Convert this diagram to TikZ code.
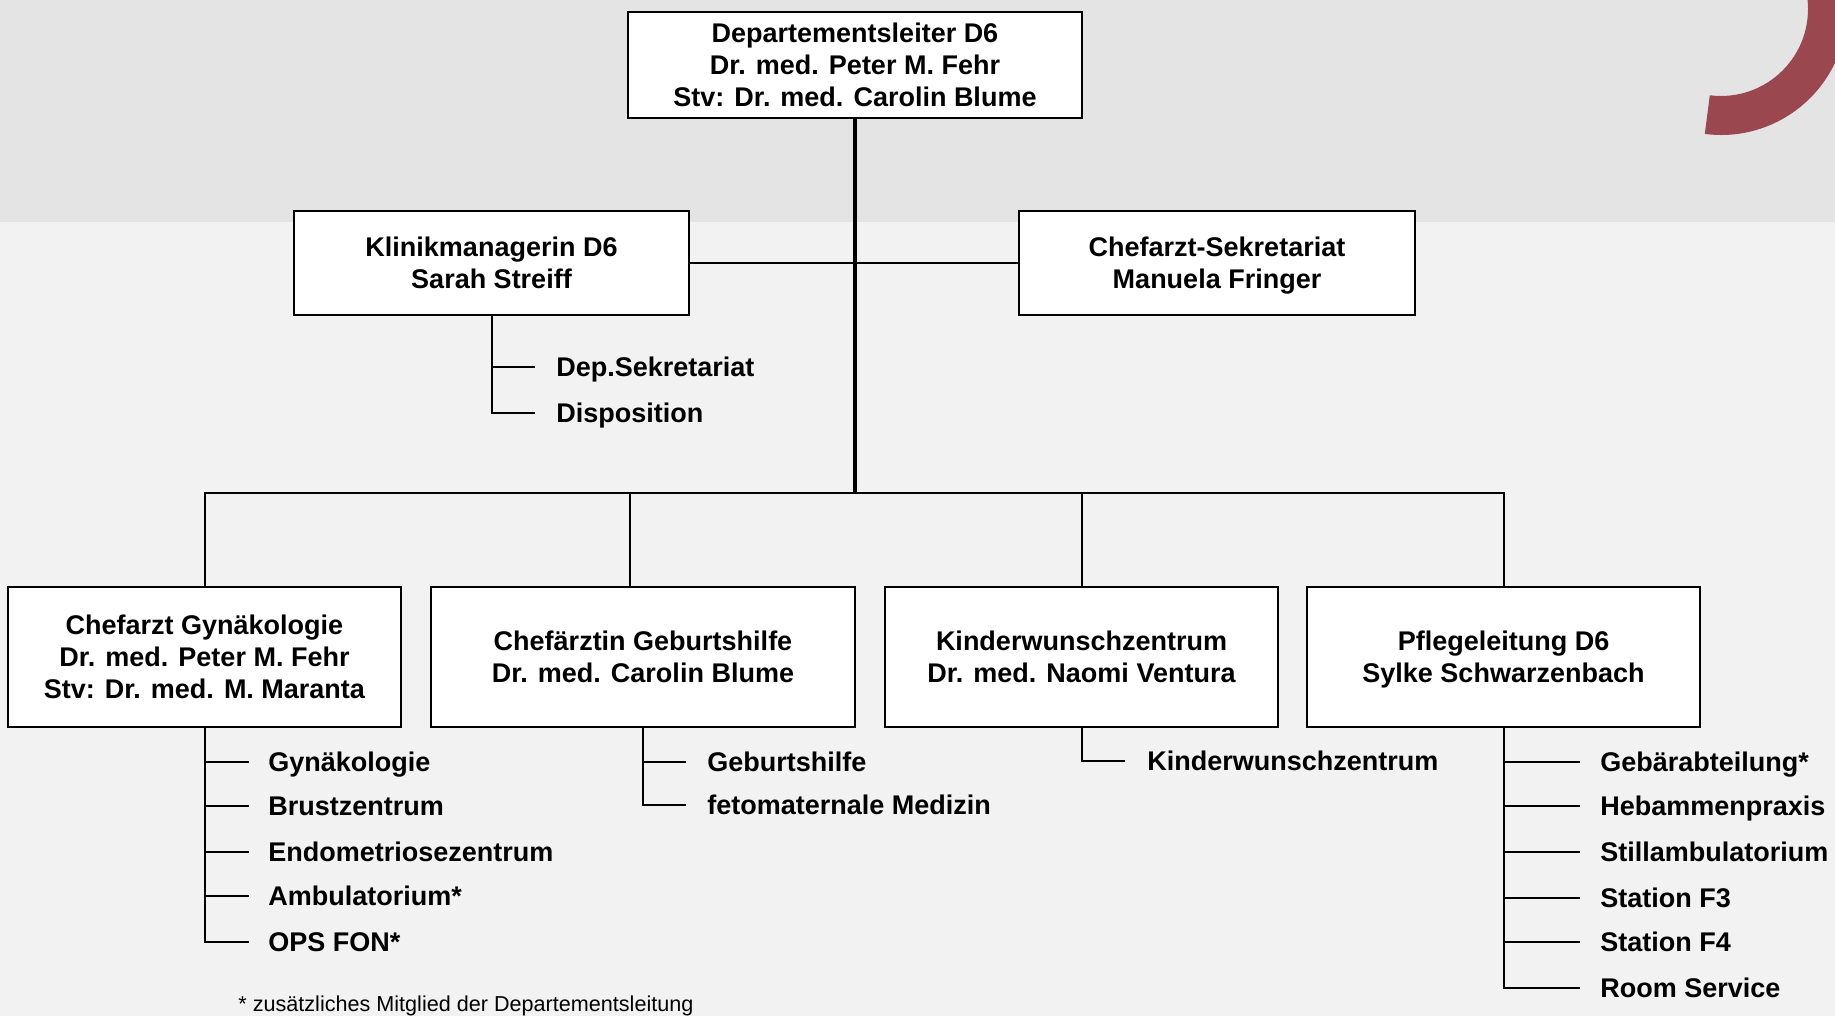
\documentclass[tikz,border=0pt]{standalone}
\usepackage{fontspec}
\setmainfont{Liberation Sans}
\definecolor{bandgray}{RGB}{228,228,228}
\definecolor{lowgray}{RGB}{242,242,242}
\definecolor{logored}{RGB}{155,71,80}
\newcommand\orgfont{\fontsize{13.5pt}{16pt}\selectfont\bfseries}
\newcommand\footfont{\fontsize{10.8pt}{12pt}\selectfont}
\newcommand\ls{\rule[-3.15pt]{0pt}{16pt}}
\begin{document}
\begin{tikzpicture}[x=0.5pt,y=-0.5pt,
  box/.style={draw=black,line width=1pt,fill=white,align=center,inner sep=0pt,font=\orgfont},
  item/.style={anchor=west,inner sep=0pt,text height=0.9em,text depth=0pt,font=\orgfont},
  conn/.style={line width=1pt},
  trunkline/.style={line width=2pt}]
\useasboundingbox (0,0) rectangle (1835,1016);
% background
\fill[lowgray] (0,0) rectangle (1835,1016);
\fill[bandgray] (0,0) rectangle (1835,222);
\begin{scope}
\clip (0,0) rectangle (1835,1016);
\fill[logored] (1721,9) ++(97.4:126) arc[start angle=97.4,end angle=-45,radius=126]
  -- ([shift={(-45:87)}]1721,9) arc[start angle=-45,end angle=97.4,radius=87] -- cycle;
\end{scope}
% boxes
\node[box,minimum width=227pt,minimum height=53pt] (top) at (855,65) {\ls Departementsleiter D6\\\ls Dr. med. Peter M. Fehr\\\ls Stv: Dr. med. Carolin Blume};
\node[box,minimum width=197.5pt,minimum height=52pt] (kl) at (491.5,263) {\ls Klinikmanagerin D6\\\ls Sarah Streiff};
\node[box,minimum width=198pt,minimum height=52pt] (sek) at (1217,263) {\ls Chefarzt-Sekretariat\\\ls Manuela Fringer};
\node[box,minimum width=196.5pt,minimum height=70pt] (b1) at (204.5,657) {\ls Chefarzt Gynäkologie\\\ls Dr. med. Peter M. Fehr\\\ls Stv: Dr. med. M. Maranta};
\node[box,minimum width=212pt,minimum height=70pt] (b2) at (643,657) {\ls Chefärztin Geburtshilfe\\\ls Dr. med. Carolin Blume};
\node[box,minimum width=196.5pt,minimum height=70pt] (b3) at (1081.5,657) {\ls Kinderwunschzentrum\\\ls Dr. med. Naomi Ventura};
\node[box,minimum width=196.5pt,minimum height=70pt] (b4) at (1503.5,657) {\ls Pflegeleitung D6\\\ls Sylke Schwarzenbach};
% junctions
\coordinate (bj) at (855,493);
\coordinate (d2) at (630,493);
% main connectors
\draw[conn] (kl.east) -- (sek.west);
\draw[trunkline] (top.south) -- (bj);
\draw[conn] (b1.north) |- (bj) -| (b4.north);
\draw[conn] (d2) -- (d2 |- b2.north);
\draw[conn] (b3.north |- bj) -- (b3.north);
% Klinik items
\node[item] (k1) at (556,367) {Dep.Sekretariat};
\node[item] (k2) at (556,413) {Disposition};
\draw[conn] (kl.south) |- ([xshift=-10.5pt]k2.west);
\draw[conn] (kl.south |- k1) -- ([xshift=-10.5pt]k1.west);
% box1 items
\node[item] (g1) at (268,762) {Gynäkologie};
\node[item] (g2) at (268,806) {Brustzentrum};
\node[item] (g3) at (268,852) {Endometriosezentrum};
\node[item] (g4) at (268,896) {Ambulatorium*};
\node[item] (g5) at (268,942) {OPS FON*};
\draw[conn] (b1.south) |- ([xshift=-9.5pt]g5.west);
\foreach \n in {g1,g2,g3,g4}{\draw[conn] (b1.south |- \n) -- ([xshift=-9.5pt]\n.west);}
% box2 items
\node[item] (h1) at (707,762) {Geburtshilfe};
\node[item] (h2) at (707,805) {fetomaternale Medizin};
\draw[conn] (b2.south) |- ([xshift=-10.5pt]h2.west);
\draw[conn] (b2.south |- h1) -- ([xshift=-10.5pt]h1.west);
% box3 items
\node[item] (w1) at (1147,761) {Kinderwunschzentrum};
\draw[conn] (b3.south) |- ([xshift=-11pt]w1.west);
% box4 items
\node[item] (p1) at (1600,762) {Gebärabteilung*};
\node[item] (p2) at (1600,806) {Hebammenpraxis};
\node[item] (p3) at (1600,852) {Stillambulatorium};
\node[item] (p4) at (1600,898) {Station F3};
\node[item] (p5) at (1600,942) {Station F4};
\node[item] (p6) at (1600,988) {Room Service};
\draw[conn] (b4.south) |- ([xshift=-10pt]p6.west);
\foreach \n in {p1,p2,p3,p4,p5}{\draw[conn] (b4.south |- \n) -- ([xshift=-10pt]\n.west);}
% footnote
\node[anchor=west,inner sep=0pt,font=\footfont] (fn) at (238,1006) {* zusätzliches Mitglied der Departementsleitung};
\end{tikzpicture}
\end{document}
